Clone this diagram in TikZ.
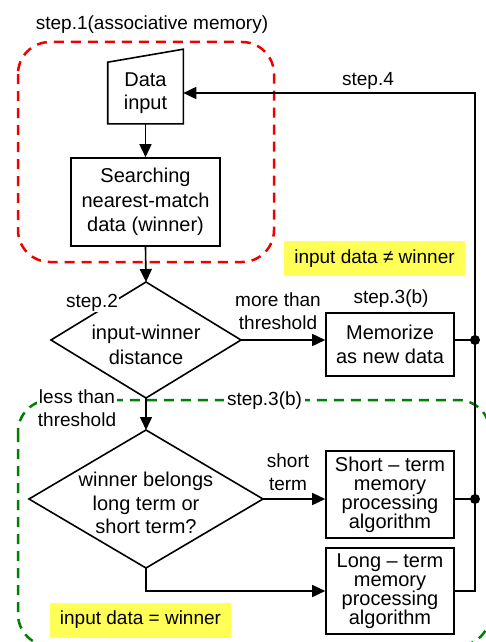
\documentclass[tikz,border=0pt]{standalone}
\usepackage{fontspec}
\setmainfont{Liberation Sans}
\usetikzlibrary{
        arrows.meta,
        calc,
        positioning,
        shapes.geometric
    }
\definecolor{hiyellow}{RGB}{255,255,85}
\definecolor{stepred}{RGB}{240,0,0}
\definecolor{stepgreen}{RGB}{0,128,0}
\newcommand{\boxfont}[1]{\fontsize{20}{#1}\selectfont}
\tikzset{>={Triangle[length=13pt,width=12pt]}}
\tikzset{
    procbox/.style={draw,rectangle,align=center,inner sep=0pt,minimum width=128pt},
    decision/.style={draw,diamond,inner sep=0pt,outer sep=0pt},
    lbl/.style={align=center,inner sep=1pt,font=\fontsize{19}{23}\selectfont},
    note/.style={fill=hiyellow,inner sep=0pt,minimum width=181pt,minimum height=35pt,font=\fontsize{19}{23}\selectfont},
    stepframe/.style={dashed,dash pattern=on 10pt off 7pt,line width=2.5pt,rounded corners=32pt}
}

\begin{document}
\begin{tikzpicture}[x=1pt,y=-1pt,line width=1.6pt]
                    \useasboundingbox (0,0) rectangle (486,642);
                    \draw[stepframe,stepred] (18,42) rectangle (274,262);
                    \draw[stepframe,stepgreen] (18,400) rectangle (490,646);

                    \node[align=center,inner sep=0pt,minimum width=74pt,minimum height=60pt,font=\boxfont{23}] (datain) at (145.5,93) {Data\\input};
                    \draw (datain.south west) -- (datain.south east) -- ($(datain.north east)+(0,-13)$) -- (datain.north west) -- cycle;
                    \node[procbox,minimum width=149pt,minimum height=88pt,font=\boxfont{24.5}] (search) at (145.5,202) {Searching\\nearest-match\\data (winner)};
                    \node[decision,minimum width=190pt,minimum height=116pt] (dec1) at (146,340) {};
                    \node[align=center,inner sep=0pt,font=\boxfont{25}] (dec1txt) at (146,345) {input-winner\\distance};
                    \node[decision,minimum width=234pt,minimum height=138pt] (dec2) at (146,499) {};
                    \node[align=center,inner sep=0pt,font=\boxfont{23.5}] (dec2txt) at (146,503) {winner belongs\\long term or\\short term?};
                    \node[procbox,minimum height=63pt,font=\boxfont{24}] (membox) at (390,344.5) {Memorize\\as new data};
                    \node[procbox,minimum height=87pt,font=\boxfont{19}] (shortbox) at (390,494.5) {Short -- term\\memory\\processing\\algorithm};
                    \node[procbox,minimum height=86pt,font=\boxfont{19}] (longbox) at (390,591) {Long -- term\\memory\\processing\\algorithm};
                    \coordinate (rail) at (475,93);

                    \node[lbl,anchor=base] (step1) at (152,30) {step.1(associative memory)};
                    \node[lbl,anchor=base] (step4) at (368,85) {step.4};
                    \node[lbl,anchor=base,fill=white] (step2) at (92,307) {step.2};
                    \node[lbl] (more) at (278,311.5) {more than\\threshold};
                    \node[lbl,anchor=base] (step3a) at (391,303) {step.3(b)};
                    \node[lbl,fill=white] (less) at (77,408.5) {less than\\threshold};
                    \node[lbl,anchor=base,fill=white,inner xsep=3pt] (step3b) at (264.5,405) {step.3(b)};
                    \node[lbl] (shortlbl) at (288,472) {short\\term};
                    \node[note] (ne) at (374.5,258.5) {input data ≠ winner};
                    \node[note] (eq) at (140.5,620) {input data = winner};

                    \draw[->] (datain.south -| search.north) -- (search.north);
                    \draw[->] (search.south) -- (dec1.north);
                    \draw[->] (dec1.east) -- (dec1.east -| membox.west);
                    \draw[->] (dec1.south) -- (dec2.north);
                    \draw[->] (dec2.east) -- (dec2.east -| shortbox.west);
                    \draw[->] (dec2.south) |- (longbox.west);
                    \draw[->] (longbox.east) -| (rail) -- (datain.east);
                    \draw (membox.east |- dec1.east) -- (dec1.east -| rail);
                    \draw (shortbox.east |- dec2.east) -- (dec2.east -| rail);
                    \fill (dec1.east -| rail) circle (5pt);
                    \fill (dec2.east -| rail) circle (5pt);
                \end{tikzpicture}
\end{document}
